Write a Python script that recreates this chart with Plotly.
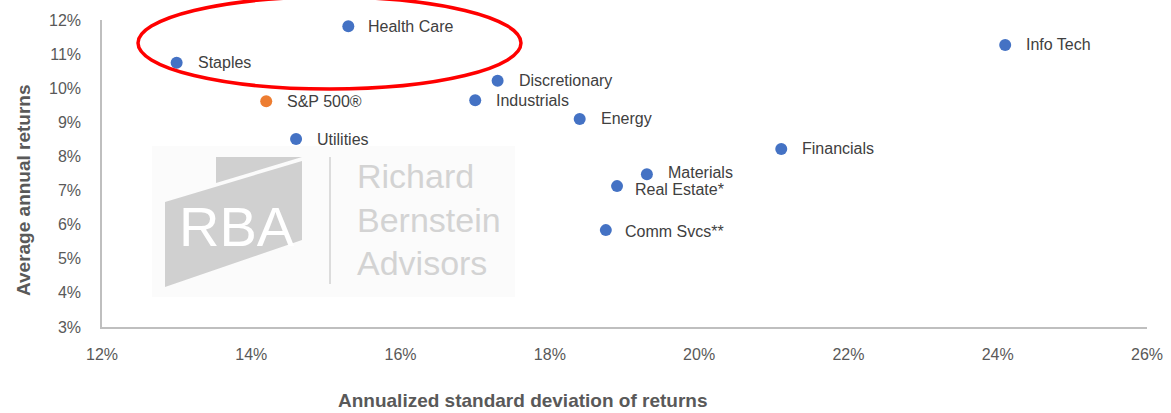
import plotly.graph_objects as go

# ---- data ----
sectors = ["Health Care", "Staples", "S&P 500®", "Utilities", "Discretionary", "Industrials",
           "Energy", "Materials", "Real Estate*", "Comm Svcs**", "Financials", "Info Tech"]
std_dev = [15.3, 13.0, 14.2, 14.6, 17.3, 17.0, 18.4, 19.3, 18.9, 18.75, 21.1, 24.1]
avg_ret = [11.82, 10.75, 9.62, 8.51, 10.22, 9.65, 9.1, 7.48, 7.13, 5.84, 8.22, 11.27]
is_index = [False, False, True, False, False, False, False, False, False, False, False, False]
x_ticks = [12, 14, 16, 18, 20, 22, 24, 26]
y_ticks = [3, 4, 5, 6, 7, 8, 9, 10, 11, 12]

BLUE = "#4472C4"
ORANGE = "#ED7D31"
FONT = "Liberation Sans, Arial, sans-serif"

W, H = 1171, 413
ML, MR, MT, MB = 102, 24, 20, 86
PW, PH = W - ML - MR, H - MT - MB


def px(xp):
    return (xp - ML) / PW


def py(yp):
    return (H - MB - yp) / PH


fig = go.Figure()
fig.add_trace(go.Scatter(
    x=std_dev, y=avg_ret, mode="markers",
    marker=dict(size=12, color=[ORANGE if i else BLUE for i in is_index]),
    hovertext=sectors, showlegend=False,
))

# labels
label_adj = {"Real Estate*": (-3, -3), "Comm Svcs**": (-2, -1), "Health Care": (-1, 0), "Materials": (0, 2)}
for s, xv, yv in zip(sectors, std_dev, avg_ret):
    dx, dy = label_adj.get(s, (0, 0))
    fig.add_annotation(x=xv, y=yv, text=s, showarrow=False, xanchor="left", yanchor="middle",
                       xshift=19 + dx, yshift=dy,
                       font=dict(family=FONT, size=16, color="#404040"))

shapes = []
# watermark background
shapes.append(dict(type="rect", xref="paper", yref="paper", x0=px(152), x1=px(515), y0=py(297), y1=py(146),
                   fillcolor="#fbfbfb", line=dict(width=0), layer="below"))


def path(pts):
    return "M " + " L ".join(f"{px(a):.4f},{py(b):.4f}" for a, b in pts) + " Z"


shapes.append(dict(type="path", xref="paper", yref="paper",
                   path=path([(216, 157), (302, 157), (216, 183)]),
                   fillcolor="#d0d0d0", line=dict(width=0), layer="below"))
shapes.append(dict(type="path", xref="paper", yref="paper",
                   path=path([(165, 202), (302, 161), (302, 240), (165, 287)]),
                   fillcolor="#d0d0d0", line=dict(width=0), layer="below"))
shapes.append(dict(type="line", xref="paper", yref="paper", x0=px(330), x1=px(330), y0=py(157), y1=py(284),
                   line=dict(color="#dcdcdc", width=2), layer="below"))
# red ellipse
shapes.append(dict(type="circle", xref="paper", yref="paper", x0=px(138), x1=px(521), y0=py(89), y1=py(-3),
                   line=dict(color="#FF0000", width=3.5), fillcolor="rgba(0,0,0,0)"))

fig.add_annotation(xref="paper", yref="paper", x=px(237), y=py(226), text="RBA", showarrow=False,
                   font=dict(family=FONT, size=56, color="white"), xanchor="center", yanchor="middle")
for txt, yc in [("Richard", 176), ("Bernstein", 220), ("Advisors", 263)]:
    fig.add_annotation(xref="paper", yref="paper", x=px(355), y=py(yc), text=txt, showarrow=False,
                       font=dict(family=FONT, size=34, color="#d3d3d3"), xanchor="left", yanchor="middle")

# axis titles
fig.add_annotation(xref="paper", yref="paper", x=px(523), y=py(400),
                   text="<b>Annualized standard deviation of returns</b>", showarrow=False,
                   font=dict(family=FONT, size=19, color="#595959"), xanchor="center", yanchor="middle")
fig.add_annotation(xref="paper", yref="paper", x=px(23), y=py(190),
                   text="<b>Average annual returns</b>", showarrow=False, textangle=-90,
                   font=dict(family=FONT, size=19, color="#595959"), xanchor="center", yanchor="middle")

fig.update_layout(
    width=W, height=H, margin=dict(l=ML, r=MR, t=MT, b=MB),
    plot_bgcolor="white", paper_bgcolor="white",
    shapes=shapes,
    xaxis=dict(range=[12, 26], tickvals=x_ticks, ticktext=[f"{v}%" for v in x_ticks],
               showgrid=False, zeroline=False, showline=True, linecolor="#bfbfbf", linewidth=1.5,
               ticks="", ticklabelstandoff=12, automargin=False,
               tickfont=dict(family=FONT, size=16, color="#595959")),
    yaxis=dict(range=[3, 12], tickvals=y_ticks, ticktext=[f"{v}%" for v in y_ticks],
               showgrid=False, zeroline=False, showline=True, linecolor="#bfbfbf", linewidth=1.5,
               ticks="", ticklabelstandoff=16, automargin=False,
               tickfont=dict(family=FONT, size=16, color="#595959")),
)

fig.write_html("out.html", config={"displayModeBar": False},
               post_script="document.body.style.margin='0px';document.body.style.overflow='hidden';")
